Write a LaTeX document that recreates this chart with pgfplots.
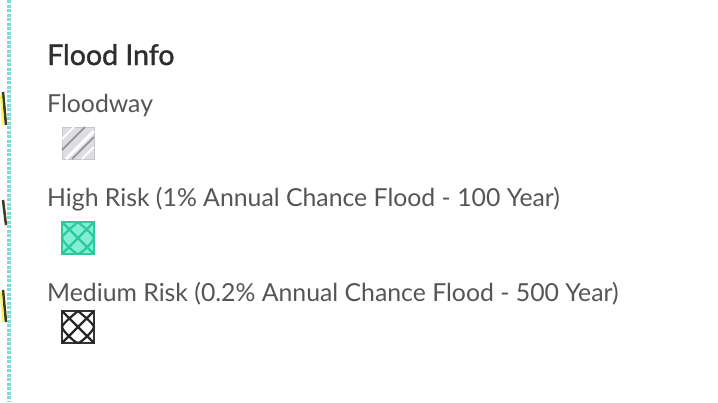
\documentclass[border=0pt]{standalone}
\usepackage{pgfplots}
\pgfplotsset{compat=1.18}
\usepackage{fontspec}
\setmainfont{Lato}
\newfontfamily\titlefont[FakeBold=1.3]{Lato}
\definecolor{titlec}{HTML}{2E2E2E}
\definecolor{labc}{HTML}{555555}
\definecolor{tealfill}{HTML}{84EDD5}
\definecolor{tealline}{HTML}{2CC99C}
\definecolor{bordert}{HTML}{7ADDD8}
\definecolor{grayfill}{HTML}{DDDDE2}
\definecolor{graydark}{HTML}{8E8E96}
\definecolor{mapedge}{HTML}{3A3A20}
\begin{document}
\begin{tikzpicture}
\begin{axis}[
  scale only axis, width=718pt, height=402pt,
  xmin=0, xmax=718, ymin=0, ymax=402, y dir=reverse,
  axis lines=none, clip=true,
]
% background
\addplot[draw=none, fill=white] coordinates {(0,0) (718,0) (718,402) (0,402)} --cycle;
% left map edge
\addplot[draw=mapedge, line width=2.5pt] coordinates {(3,92) (6,125)};
\addplot[draw=yellow!70!white, line width=2pt] coordinates {(1,95) (3,125)};
\addplot[draw=mapedge, line width=2.5pt] coordinates {(3,200) (6,225)};
\addplot[draw=mapedge, line width=2.5pt] coordinates {(3,290) (6,322)};
\addplot[draw=yellow!70!white, line width=2pt] coordinates {(1,292) (3,322)};
\addplot[draw=bordert, line width=4pt, dash pattern=on 3pt off 1.5pt] coordinates {(9,0) (9,402)};
% Floodway swatch
\addplot[draw=graydark!50, fill=grayfill, line width=0.6pt] coordinates {(62,127) (94,127) (94,159) (62,159)} --cycle;
\addplot[draw=white, line width=3pt] coordinates {(66,159) (94,131)};
\addplot[draw=graydark, line width=1.6pt] coordinates {(62,150) (85,127)};
\addplot[draw=graydark, line width=1.6pt] coordinates {(72,159) (94,137)};
\addplot[draw=white, line width=2pt] coordinates {(62,139) (74,127)};
\addplot[draw=white, line width=2pt] coordinates {(82,159) (94,147)};
% High risk swatch
\addplot[draw=tealline, fill=tealfill, line width=1.2pt] coordinates {(62,222) (94,222) (94,254) (62,254)} --cycle;
\addplot[draw=tealline, line width=2.2pt] coordinates {(62,222) (94,254)};
\addplot[draw=tealline, line width=2.2pt] coordinates {(94,222) (62,254)};
\addplot[draw=tealline, line width=2.2pt, smooth, tension=0.35] coordinates {(78,222) (94,238) (78,254) (62,238) (78,222)};
% Medium risk swatch
\addplot[draw=black!80, fill=white, line width=2pt] coordinates {(62,311) (94,311) (94,343) (62,343)} --cycle;
\addplot[draw=black!85, line width=2.2pt] coordinates {(62,311) (94,343)};
\addplot[draw=black!85, line width=2.2pt] coordinates {(94,311) (62,343)};
\addplot[draw=black!85, line width=2.2pt, smooth, tension=0.35] coordinates {(78,311) (94,327) (78,343) (62,327) (78,311)};
% texts
\node[anchor=base west, inner sep=0pt, text=titlec, font=\titlefont\fontsize{28.5}{30}\selectfont] at (axis cs:47,65) {Flood Info};
\node[anchor=base west, inner sep=0pt, text=labc, font=\fontsize{24.8}{26}\selectfont] at (axis cs:47,112) {Floodway};
\node[anchor=base west, inner sep=0pt, text=labc, font=\fontsize{24.8}{26}\selectfont] at (axis cs:47,206) {High Risk (1\% Annual Chance Flood - 100 Year)};
\node[anchor=base west, inner sep=0pt, text=labc, font=\fontsize{24.8}{26}\selectfont] at (axis cs:47,301) {Medium Risk (0.2\% Annual Chance Flood - 500 Year)};
\end{axis}
\end{tikzpicture}
\end{document}
